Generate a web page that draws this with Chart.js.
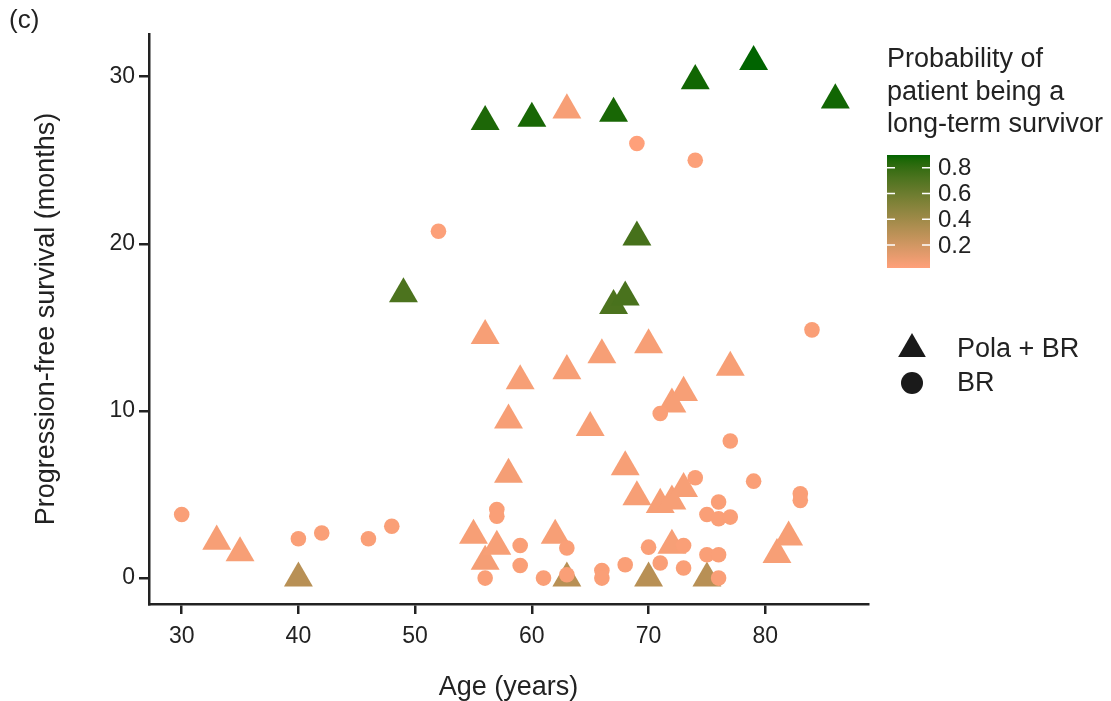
<!DOCTYPE html>
<html>
<head>
<meta charset="utf-8">
<script src="https://cdn.jsdelivr.net/npm/chart.js@4.4.0/dist/chart.umd.min.js"></script>
<style>
  html, body { margin: 0; padding: 0; background: #fff; }
  #wrap { width: 1111px; height: 701px; }
</style>
</head>
<body>
<div id="wrap"><canvas id="pfsChart" width="1111" height="701"></canvas></div>
<script>
// Pola + BR arm: age, progression-free survival, long-term survivor probability
const polaAge  = [33, 35, 40, 49, 55, 56, 56, 56, 57, 58, 58, 59, 60, 62, 63, 63, 63, 65, 66, 67,
                  67, 68, 68, 69, 69, 70, 70, 71, 72, 72, 72, 73, 73, 74, 75, 77, 79, 81, 82, 86];
const polaPfs  = [2.2, 1.5, 0.0, 17.0, 2.55, 14.5, 1.0, 27.3, 1.9, 9.45, 6.2, 11.8, 27.5, 2.55, 12.4, 28.0, 0.0, 9.0, 13.35, 27.8,
                  16.3, 16.8, 6.65, 20.4, 4.85, 13.95, 0.0, 4.4, 4.6, 10.4, 1.95, 11.1, 5.35, 29.75, 0.0, 12.6, 30.9, 1.4, 2.45, 28.6];
const polaProb = [0.05, 0.05, 0.30, 0.72, 0.05, 0.05, 0.06, 0.86, 0.05, 0.05, 0.06, 0.05, 0.87, 0.05, 0.05, 0.05, 0.30, 0.05, 0.05, 0.87,
                  0.72, 0.73, 0.05, 0.74, 0.05, 0.05, 0.30, 0.05, 0.05, 0.05, 0.05, 0.05, 0.05, 0.88, 0.30, 0.05, 0.90, 0.05, 0.05, 0.88];

// BR arm
const brAge  = [30, 40, 42, 46, 48, 52, 56, 57, 57, 59, 59, 61, 63, 63, 66, 66, 68, 69, 70,
                71, 71, 73, 73, 74, 74, 75, 75, 76, 76, 76, 76, 77, 77, 79, 83, 83, 84];
const brPfs  = [3.8, 2.35, 2.7, 2.35, 3.1, 20.75, 0.0, 4.1, 3.7, 1.95, 0.75, 0.0, 1.8, 0.2, 0.45, 0.0, 0.8, 26.0, 1.85,
                9.85, 0.9, 1.95, 0.6, 25.0, 6.0, 3.8, 1.4, 4.55, 3.55, 1.4, 0.0, 3.65, 8.2, 5.8, 5.05, 4.65, 14.85];
const brProb = [0.04, 0.04, 0.04, 0.04, 0.04, 0.03, 0.04, 0.04, 0.04, 0.04, 0.04, 0.04, 0.04, 0.04, 0.04, 0.04, 0.04, 0.02, 0.04,
                0.04, 0.04, 0.04, 0.04, 0.03, 0.04, 0.04, 0.04, 0.04, 0.04, 0.04, 0.04, 0.04, 0.04, 0.04, 0.04, 0.04, 0.04];

const xTicks = [30, 40, 50, 60, 70, 80];
const yTicks = [0, 10, 20, 30];
const barTicks = [0.2, 0.4, 0.6, 0.8];
const legendTitle = ['Probability of', 'patient being a', 'long-term survivor'];

const FONT = '"Liberation Sans", Arial, Helvetica, sans-serif';
const INK = '#222222';

// gradient lightsalmon -> darkgreen, interpolated in CIE Lab
const LOW = [255, 160, 122], HIGH = [0, 100, 0];
function toLin(c) { c /= 255; return c <= 0.04045 ? c / 12.92 : Math.pow((c + 0.055) / 1.055, 2.4); }
function fromLin(c) {
  c = c <= 0.0031308 ? 12.92 * c : 1.055 * Math.pow(c, 1 / 2.4) - 0.055;
  return Math.round(Math.max(0, Math.min(1, c)) * 255);
}
function rgb2lab(rgb) {
  const r = toLin(rgb[0]), g = toLin(rgb[1]), b = toLin(rgb[2]);
  const x = (0.4124 * r + 0.3576 * g + 0.1805 * b) / 0.95047;
  const y = 0.2126 * r + 0.7152 * g + 0.0722 * b;
  const z = (0.0193 * r + 0.1192 * g + 0.9505 * b) / 1.08883;
  const f = t => t > 0.008856 ? Math.cbrt(t) : 7.787 * t + 16 / 116;
  const fx = f(x), fy = f(y), fz = f(z);
  return [116 * fy - 16, 500 * (fx - fy), 200 * (fy - fz)];
}
function lab2rgb(lab) {
  const fy = (lab[0] + 16) / 116, fx = fy + lab[1] / 500, fz = fy - lab[2] / 200;
  const g = t => t * t * t > 0.008856 ? t * t * t : (t - 16 / 116) / 7.787;
  const x = g(fx) * 0.95047, y = g(fy), z = g(fz) * 1.08883;
  return [
    fromLin(3.2406 * x - 1.5372 * y - 0.4986 * z),
    fromLin(-0.9689 * x + 1.8758 * y + 0.0415 * z),
    fromLin(0.0557 * x - 0.2040 * y + 1.0570 * z)
  ];
}
const labLow = rgb2lab(LOW), labHigh = rgb2lab(HIGH);
const pMin = Math.min(...polaProb, ...brProb);
const pMax = Math.max(...polaProb, ...brProb);
function colorFor(p) {
  const t = Math.max(0, Math.min(1, (p - pMin) / (pMax - pMin)));
  const c = lab2rgb(labLow.map((v, i) => v + (labHigh[i] - v) * t));
  return `rgb(${c[0]},${c[1]},${c[2]})`;
}

// colour bar, shape key, panel letter
const sideLegend = {
  id: 'sideLegend',
  afterDraw(chart) {
    const c = chart.ctx;
    c.save();
    c.fillStyle = INK;
    c.textBaseline = 'middle';
    c.textAlign = 'left';
    c.font = `26px ${FONT}`;
    c.fillText('(c)', 9, 21);
    c.font = `27px ${FONT}`;
    legendTitle.forEach((t, i) => c.fillText(t, 887, 60 + i * 32.5));

    const bx = 887, bw = 43, bTop = 155, bBot = 268;
    const grad = c.createLinearGradient(0, bBot, 0, bTop);
    for (let k = 0; k <= 20; k++) grad.addColorStop(k / 20, colorFor(pMin + (pMax - pMin) * k / 20));
    c.fillStyle = grad;
    c.fillRect(bx, bTop, bw, bBot - bTop);
    const yOf = p => bBot - (p - pMin) / (pMax - pMin) * (bBot - bTop);
    c.strokeStyle = '#ffffff';
    c.lineWidth = 1.5;
    c.font = `24px ${FONT}`;
    barTicks.forEach(p => {
      const y = yOf(p);
      c.beginPath();
      c.moveTo(bx, y); c.lineTo(bx + 8, y);
      c.moveTo(bx + bw - 8, y); c.lineTo(bx + bw, y);
      c.stroke();
      c.fillStyle = INK;
      c.fillText(p.toFixed(1), 938, y + 1);
    });

    // Pola + BR / BR keys
    c.fillStyle = '#1a1a1a';
    const tx = 912, ty = 349, r = 16;
    c.beginPath();
    c.moveTo(tx, ty - r);
    c.lineTo(tx + r * Math.sin(2 * Math.PI / 3), ty + r / 2);
    c.lineTo(tx - r * Math.sin(2 * Math.PI / 3), ty + r / 2);
    c.closePath();
    c.fill();
    c.beginPath();
    c.arc(912, 383, 11, 0, Math.PI * 2);
    c.fill();
    c.fillStyle = INK;
    c.font = `27px ${FONT}`;
    c.fillText('Pola + BR', 957, 350);
    c.fillText('BR', 957, 384);
    c.restore();
  }
};

const axisCommon = {
  type: 'linear',
  border: { color: INK, width: 2.5 },
  grid: { drawOnChartArea: false, color: INK, lineWidth: 2.5, tickLength: 10 },
  ticks: { color: INK, font: { family: FONT, size: 23 }, padding: 4, maxRotation: 0 }
};

new Chart(document.getElementById('pfsChart'), {
  type: 'scatter',
  data: {
    datasets: [
      {
        label: 'BR',
        data: brAge.map((a, i) => ({ x: a, y: brPfs[i] })),
        pointStyle: 'circle',
        pointRadius: 7.8,
        backgroundColor: brProb.map(colorFor),
        borderWidth: 0,
        order: 0
      },
      {
        label: 'Pola + BR',
        data: polaAge.map((a, i) => ({ x: a, y: polaPfs[i] })),
        pointStyle: 'triangle',
        pointRadius: 16.7,
        backgroundColor: polaProb.map(colorFor),
        borderWidth: 0,
        order: 1
      }
    ]
  },
  options: {
    responsive: false,
    animation: false,
    events: [],
    layout: { padding: { left: 0, top: 34, right: 243, bottom: 0 } },
    plugins: { legend: { display: false }, tooltip: { enabled: false } },
    scales: {
      x: {
        ...axisCommon,
        min: 27.2,
        max: 88.8,
        ticks: { ...axisCommon.ticks, padding: 9 },
        afterBuildTicks: s => { s.ticks = xTicks.map(v => ({ value: v })); },
        afterFit: s => { s.height = 97; },
        title: { display: true, text: 'Age (years)', color: INK,
                 font: { family: FONT, size: 27, lineHeight: 1 }, padding: { top: 0, bottom: 0 } }
      },
      y: {
        ...axisCommon,
        min: -1.55,
        max: 32.55,
        afterBuildTicks: s => { s.ticks = yTicks.map(v => ({ value: v })); },
        afterFit: s => { s.width = 149; },
        title: { display: true, text: 'Progression-free survival (months)', color: INK,
                 font: { family: FONT, size: 27, lineHeight: 1 }, padding: { top: 33, bottom: 0 } }
      }
    }
  },
  plugins: [sideLegend]
});
</script>
</body>
</html>
